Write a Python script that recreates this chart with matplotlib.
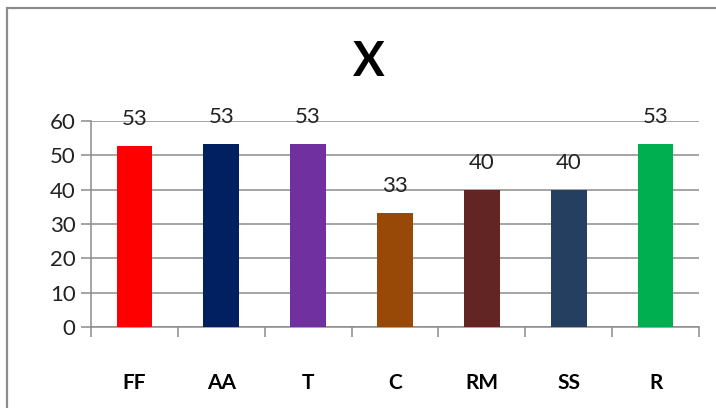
import matplotlib.pyplot as plt
from matplotlib.patches import Rectangle

categories = ["FF", "AA", "T", "C", "RM", "SS", "R"]
values = [52.7, 53.3, 53.3, 33.3, 40.0, 40.0, 53.3]
labels = ["53", "53", "53", "33", "40", "40", "53"]
colors = ["#FF0000", "#002060", "#7030A0", "#984807", "#632523", "#243F60", "#00B050"]

plt.rcParams["font.family"] = ["Lato", "DejaVu Sans"]

fig = plt.figure(figsize=(7.16, 4.08), dpi=100)
fig.patches.append(Rectangle((7 / 716, -0.05), 1.2, 1 - 8 / 408 + 0.05,
                             transform=fig.transFigure, fill=False,
                             edgecolor="#8c8c8c", linewidth=1.6))

ax = fig.add_axes([91 / 716, 1 - 327 / 408, (699 - 91) / 716, (327 - 121) / 408])
x = range(len(categories))
bars = ax.bar(x, values, width=0.41, color=colors, zorder=3)
for b, lab in zip(bars, labels):
    ax.annotate(lab, (b.get_x() + b.get_width() / 2, b.get_height()),
                xytext=(0, 12), textcoords="offset points",
                ha="center", va="bottom", fontsize=16, color="#222222")

ax.set_xlim(-0.5, len(categories) - 0.5)
ax.set_ylim(0, 60)
ax.set_yticks(range(0, 61, 10))
ax.yaxis.grid(True, color="#8c8c8c", linewidth=1.1, zorder=0)
ax.tick_params(axis="y", labelsize=16, length=7, width=1.1, color="#8c8c8c",
               pad=4, labelcolor="#222222")

ax.set_xticks(list(x))
ax.set_xticklabels(categories, fontweight="bold", fontsize=15)
ax.set_xticks([i - 0.5 for i in range(len(categories) + 1)], minor=True)
ax.tick_params(axis="x", which="major", length=0, pad=33)
ax.tick_params(axis="x", which="minor", length=7, width=1.1, color="#8c8c8c")

for s in ["top", "right"]:
    ax.spines[s].set_visible(False)
for s in ["left", "bottom"]:
    ax.spines[s].set_color("#8c8c8c")
    ax.spines[s].set_linewidth(1.1)

fig.text(369 / 716, 1 - 62 / 408, "X", ha="center", va="center",
         fontsize=34, fontweight="bold")

fig.savefig("out.png", dpi=100)
